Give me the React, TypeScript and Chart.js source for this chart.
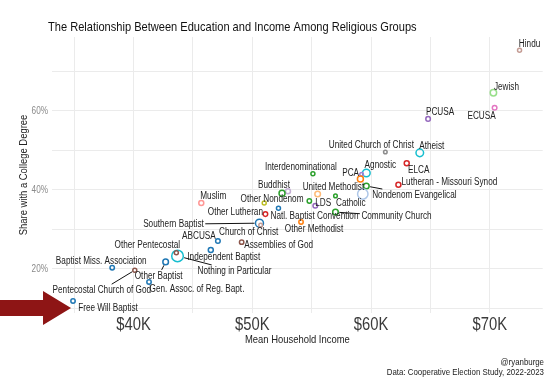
import React, { useEffect, useRef } from 'react';
import { Chart, registerables } from 'chart.js';

Chart.register(...registerables);

const FONT = "'Liberation Sans', Arial, sans-serif";
const NARROW = 0.82; // horizontal compression to get a narrow face

// ---------- data ----------
const groups = [
  'Hindu', 'Jewish', 'ECUSA', 'PCUSA', 'United Church of Christ', 'Atheist', 'ELCA',
  'Lutheran - Missouri Synod', 'Agnostic', 'PCA', 'United Methodist', 'Nondenom Evangelical',
  'Catholic', 'Unlabeled group 1', 'Community Church', 'Natl. Baptist Convention', 'LDS',
  'Unlabeled group 2', 'Unlabeled group 3', 'Interdenominational', 'Buddhist', 'Other Nondenom',
  'Unlabeled group 4', 'Muslim', 'Other Lutheran', 'Southern Baptist', 'Church of Christ',
  'ABCUSA', 'Assemblies of God', 'Independent Baptist', 'Nothing in Particular',
  'Other Pentecostal', 'Other Baptist', 'Baptist Miss. Association', 'Pentecostal Church of God',
  'Gen. Assoc. of Reg. Bapt.', 'Free Will Baptist', 'Other Methodist',
];

// mean household income, $K
const income = [
  72.5, 70.3, 70.4, 64.8, 61.2, 64.1, 63.0,
  62.3, 59.6, 59.2, 59.1, 59.6,
  59.3, 57.0, 57.0, 52.2, 55.3,
  54.8, 55.5, 55.1, 53.0, 52.5,
  51.0, 45.7, 51.1, 50.6, 50.7,
  47.1, 49.1, 46.5, 43.7,
  43.6, 42.7, 38.2, 40.1,
  41.3, 34.9, 54.1,
];

// share with a college degree, %
const collegeShare = [
  75.4, 64.6, 60.8, 58.0, 49.6, 49.4, 46.8,
  41.3, 44.3, 44.0, 42.8, 41.0,
  39.0, 38.5, 34.4, 35.4, 36.0,
  37.2, 39.0, 44.1, 39.7, 39.2,
  36.7, 36.7, 33.9, 31.6, 31.1,
  27.1, 26.8, 24.8, 23.3,
  24.1, 21.8, 20.3, 19.7,
  16.7, 11.9, 31.9,
];

// relative sample weight (drives circle size)
const sampleWeight = [
  0.2, 3.2, 0.6, 0.6, 0.05, 6.0, 1.0,
  1.0, 6.0, 0.05, 2.4, 1.8,
  16, 0.05, 1.8, 0.2, 0.6,
  0.44, 1.8, 0.2, 1.0, 2.4,
  0.2, 1.0, 0.6, 7.1, 0.05,
  0.6, 0.44, 1.0, 21.8,
  0.2, 1.8, 0.44, 0.2,
  0.44, 0.44, 0.44,
];

const xTicks = [35, 40, 45, 50, 55, 60, 65, 70];
const xLabelTicks = [40, 50, 60, 70];
const yTicks = [10, 20, 30, 40, 50, 60, 70];
const yLabelTicks = [20, 40, 60];

const titleText = 'The Relationship Between Education and Income Among Religious Groups';
const xTitle = 'Mean Household Income';
const yTitle = 'Share with a College Degree';
const captionLines = ['@ryanburge', 'Data: Cooperative Election Study, 2022-2023'];
const highlightGroup = 'Free Will Baptist';

// ---------- styles ----------
const colorOf: Record<string, string> = {
  'Hindu': '#c49c94', 'Jewish': '#98df8a', 'ECUSA': '#e377c2', 'PCUSA': '#9467bd',
  'United Church of Christ': '#8c8c8c', 'Atheist': '#17becf', 'ELCA': '#d62728',
  'Lutheran - Missouri Synod': '#d62728', 'Agnostic': '#17becf', 'PCA': '#a57fd6',
  'United Methodist': '#ff7f0e', 'Nondenom Evangelical': '#2ca02c', 'Catholic': '#aec7e8',
  'Unlabeled group 1': '#2ca02c', 'Community Church': '#2ca02c', 'Natl. Baptist Convention': '#1f77b4',
  'LDS': '#9467bd', 'Unlabeled group 2': '#2ca02c', 'Unlabeled group 3': '#ffbb78',
  'Interdenominational': '#2ca02c', 'Buddhist': '#c5b0d5', 'Other Nondenom': '#2ca02c',
  'Unlabeled group 4': '#bcbd22', 'Muslim': '#ff9896', 'Other Lutheran': '#d62728',
  'Southern Baptist': '#1f77b4', 'Church of Christ': '#c49c94', 'ABCUSA': '#1f77b4',
  'Assemblies of God': '#8c564b', 'Independent Baptist': '#1f77b4', 'Nothing in Particular': '#17becf',
  'Other Pentecostal': '#8c564b', 'Other Baptist': '#1f77b4', 'Baptist Miss. Association': '#1f77b4',
  'Pentecostal Church of God': '#8c564b', 'Gen. Assoc. of Reg. Bapt.': '#1f77b4',
  'Free Will Baptist': '#1f77b4', 'Other Methodist': '#ff7f0e',
};

// label offset from the point in px: [dx, dy, leader line]
const labelLayout: Record<string, [number, number, boolean?]> = {
  'Hindu': [10, -6], 'Jewish': [13, -6], 'ECUSA': [-13, 8], 'PCUSA': [12, -7],
  'United Church of Christ': [-14, -7], 'Atheist': [12, -7], 'ELCA': [12, 7],
  'Lutheran - Missouri Synod': [51, -3], 'Agnostic': [14, -8], 'PCA': [-11, -1],
  'United Methodist': [-27, 8], 'Nondenom Evangelical': [48, 9, true], 'Catholic': [-12, 9],
  'Community Church': [61, 4, true], 'Natl. Baptist Convention': [36, 8], 'LDS': [8, -3],
  'Interdenominational': [-12, -7], 'Buddhist': [-14, -6], 'Other Nondenom': [-10, 6],
  'Muslim': [12, -7], 'Other Lutheran': [-30, -2], 'Southern Baptist': [-86, 1, true],
  'Church of Christ': [-12, 7], 'ABCUSA': [-19, -5], 'Assemblies of God': [37, 3],
  'Independent Baptist': [13, 7], 'Nothing in Particular': [57, 15, true],
  'Other Pentecostal': [-29, -8], 'Other Baptist': [-7, 14, true],
  'Baptist Miss. Association': [-11, -7], 'Pentecostal Church of God': [-33, 20, true],
  'Gen. Assoc. of Reg. Bapt.': [48, 7], 'Free Will Baptist': [35, 7], 'Other Methodist': [13, 7],
};

const radiusOf = (w: number) => 1.6 + 0.9 * Math.sqrt(w);

function drawText(
  ctx: CanvasRenderingContext2D,
  text: string,
  x: number,
  y: number,
  size: number,
  color: string,
  align: CanvasTextAlign,
  baseline: CanvasTextBaseline,
) {
  ctx.save();
  ctx.font = `${size}px ${FONT}`;
  ctx.fillStyle = color;
  ctx.textAlign = align;
  ctx.textBaseline = baseline;
  ctx.translate(x, y);
  ctx.scale(NARROW, 1);
  ctx.fillText(text, 0, 0);
  ctx.restore();
}

function textWidth(ctx: CanvasRenderingContext2D, text: string, size: number) {
  ctx.save();
  ctx.font = `${size}px ${FONT}`;
  const w = ctx.measureText(text).width * NARROW;
  ctx.restore();
  return w;
}

const overlayPlugin = {
  id: 'overlay',
  afterDatasetsDraw(chart: any) {
    const ctx: CanvasRenderingContext2D = chart.ctx;
    const xs = chart.scales.x;
    const ys = chart.scales.y;
    const area = chart.chartArea;
    ctx.save();

    // tick labels
    xLabelTicks.forEach((v) => {
      drawText(ctx, `$${v}K`, xs.getPixelForValue(v), 330, 18, '#3a3a3a', 'center', 'alphabetic');
    });
    yLabelTicks.forEach((v) => {
      drawText(ctx, `${v}%`, 48, ys.getPixelForValue(v) + 0.5, 10, '#8a8a8a', 'right', 'middle');
    });

    // point labels + leader lines
    groups.forEach((g, i) => {
      const lay = labelLayout[g];
      if (!lay) return;
      const px = xs.getPixelForValue(income[i]);
      const py = ys.getPixelForValue(collegeShare[i]);
      const cx = px + lay[0];
      const cy = py + lay[1];
      const w = textWidth(ctx, g, 10);
      if (lay[2]) {
        const hw = w / 2 + 1.5;
        const hh = 6;
        const dx = px - cx;
        const dy = py - cy;
        const t = Math.min(dx === 0 ? Infinity : hw / Math.abs(dx), dy === 0 ? Infinity : hh / Math.abs(dy));
        const ex = cx + dx * t;
        const ey = cy + dy * t;
        const len = Math.hypot(dx, dy);
        const r = radiusOf(sampleWeight[i]) + 1;
        const sx = px - (dx / len) * r;
        const sy = py - (dy / len) * r;
        ctx.strokeStyle = '#111';
        ctx.lineWidth = 1;
        ctx.beginPath();
        ctx.moveTo(sx, sy);
        ctx.lineTo(ex, ey);
        ctx.stroke();
      }
      drawText(ctx, g, cx, cy + 0.5, 10, '#222', 'center', 'middle');
    });

    // title
    drawText(ctx, titleText, 48, 31, 13.5, '#111', 'left', 'alphabetic');

    // axis titles
    drawText(ctx, xTitle, (area.left + area.right) / 2, 340, 11.5, '#222', 'center', 'middle');
    ctx.save();
    ctx.translate(24, (area.top + area.bottom) / 2);
    ctx.rotate(-Math.PI / 2);
    drawText(ctx, yTitle, 0, 0, 11.5, '#222', 'center', 'middle');
    ctx.restore();

    // caption
    drawText(ctx, captionLines[0], 544, 364.5, 9.6, '#222', 'right', 'alphabetic');
    drawText(ctx, captionLines[1], 544, 375, 9.6, '#222', 'right', 'alphabetic');

    // highlight arrow pointing to a group
    const hi = groups.indexOf(highlightGroup);
    if (hi >= 0) {
      const hx = xs.getPixelForValue(income[hi]);
      const hy = ys.getPixelForValue(collegeShare[hi]);
      const tipX = hx - 2;
      const tipY = hy + 7;
      const baseX = tipX - 28;
      ctx.fillStyle = '#8e1515';
      ctx.beginPath();
      ctx.moveTo(0, tipY - 8);
      ctx.lineTo(baseX, tipY - 8);
      ctx.lineTo(baseX, tipY - 17);
      ctx.lineTo(tipX, tipY);
      ctx.lineTo(baseX, tipY + 17);
      ctx.lineTo(baseX, tipY + 8);
      ctx.lineTo(0, tipY + 8);
      ctx.closePath();
      ctx.fill();
    }
    ctx.restore();
  },
};

export default function App() {
  const ref = useRef<HTMLCanvasElement | null>(null);
  useEffect(() => {
    if (!ref.current) return;
    const radii = sampleWeight.map(radiusOf);
    const chart = new Chart(ref.current, {
      type: 'scatter',
      data: {
        datasets: [
          {
            data: groups.map((_, i) => ({ x: income[i], y: collegeShare[i] })),
            pointRadius: radii,
            pointHoverRadius: radii,
            pointBorderColor: groups.map((g) => colorOf[g]),
            pointBackgroundColor: 'rgba(255,255,255,0)',
            pointBorderWidth: 1.5,
          },
        ],
      },
      options: {
        responsive: false,
        animation: false,
        events: [],
        layout: { padding: { top: 37, right: 5, left: 0, bottom: 0 } },
        plugins: {
          legend: { display: false },
          tooltip: { enabled: false },
          title: { display: false },
        },
        scales: {
          x: {
            type: 'linear',
            min: 33.13,
            max: 74.45,
            afterBuildTicks: (s: any) => {
              s.ticks = xTicks.map((v) => ({ value: v }));
            },
            afterFit: (s: any) => {
              s.height = 64;
            },
            grid: { color: '#ebebeb', lineWidth: 1, drawTicks: false },
            border: { display: false },
            ticks: { display: false },
          },
          y: {
            type: 'linear',
            min: 8.86,
            max: 78.73,
            afterBuildTicks: (s: any) => {
              s.ticks = yTicks.map((v) => ({ value: v }));
            },
            afterFit: (s: any) => {
              s.width = 52;
            },
            grid: { color: '#ebebeb', lineWidth: 1, drawTicks: false },
            border: { display: false },
            ticks: { display: false },
          },
        },
      },
      plugins: [overlayPlugin],
    });
    return () => chart.destroy();
  }, []);

  return (
    <div style={{ position: 'fixed', left: 0, top: 0, width: 550, height: 377, background: '#fff' }}>
      <canvas ref={ref} width={550} height={377} style={{ width: 550, height: 377, display: 'block' }} />
    </div>
  );
}
